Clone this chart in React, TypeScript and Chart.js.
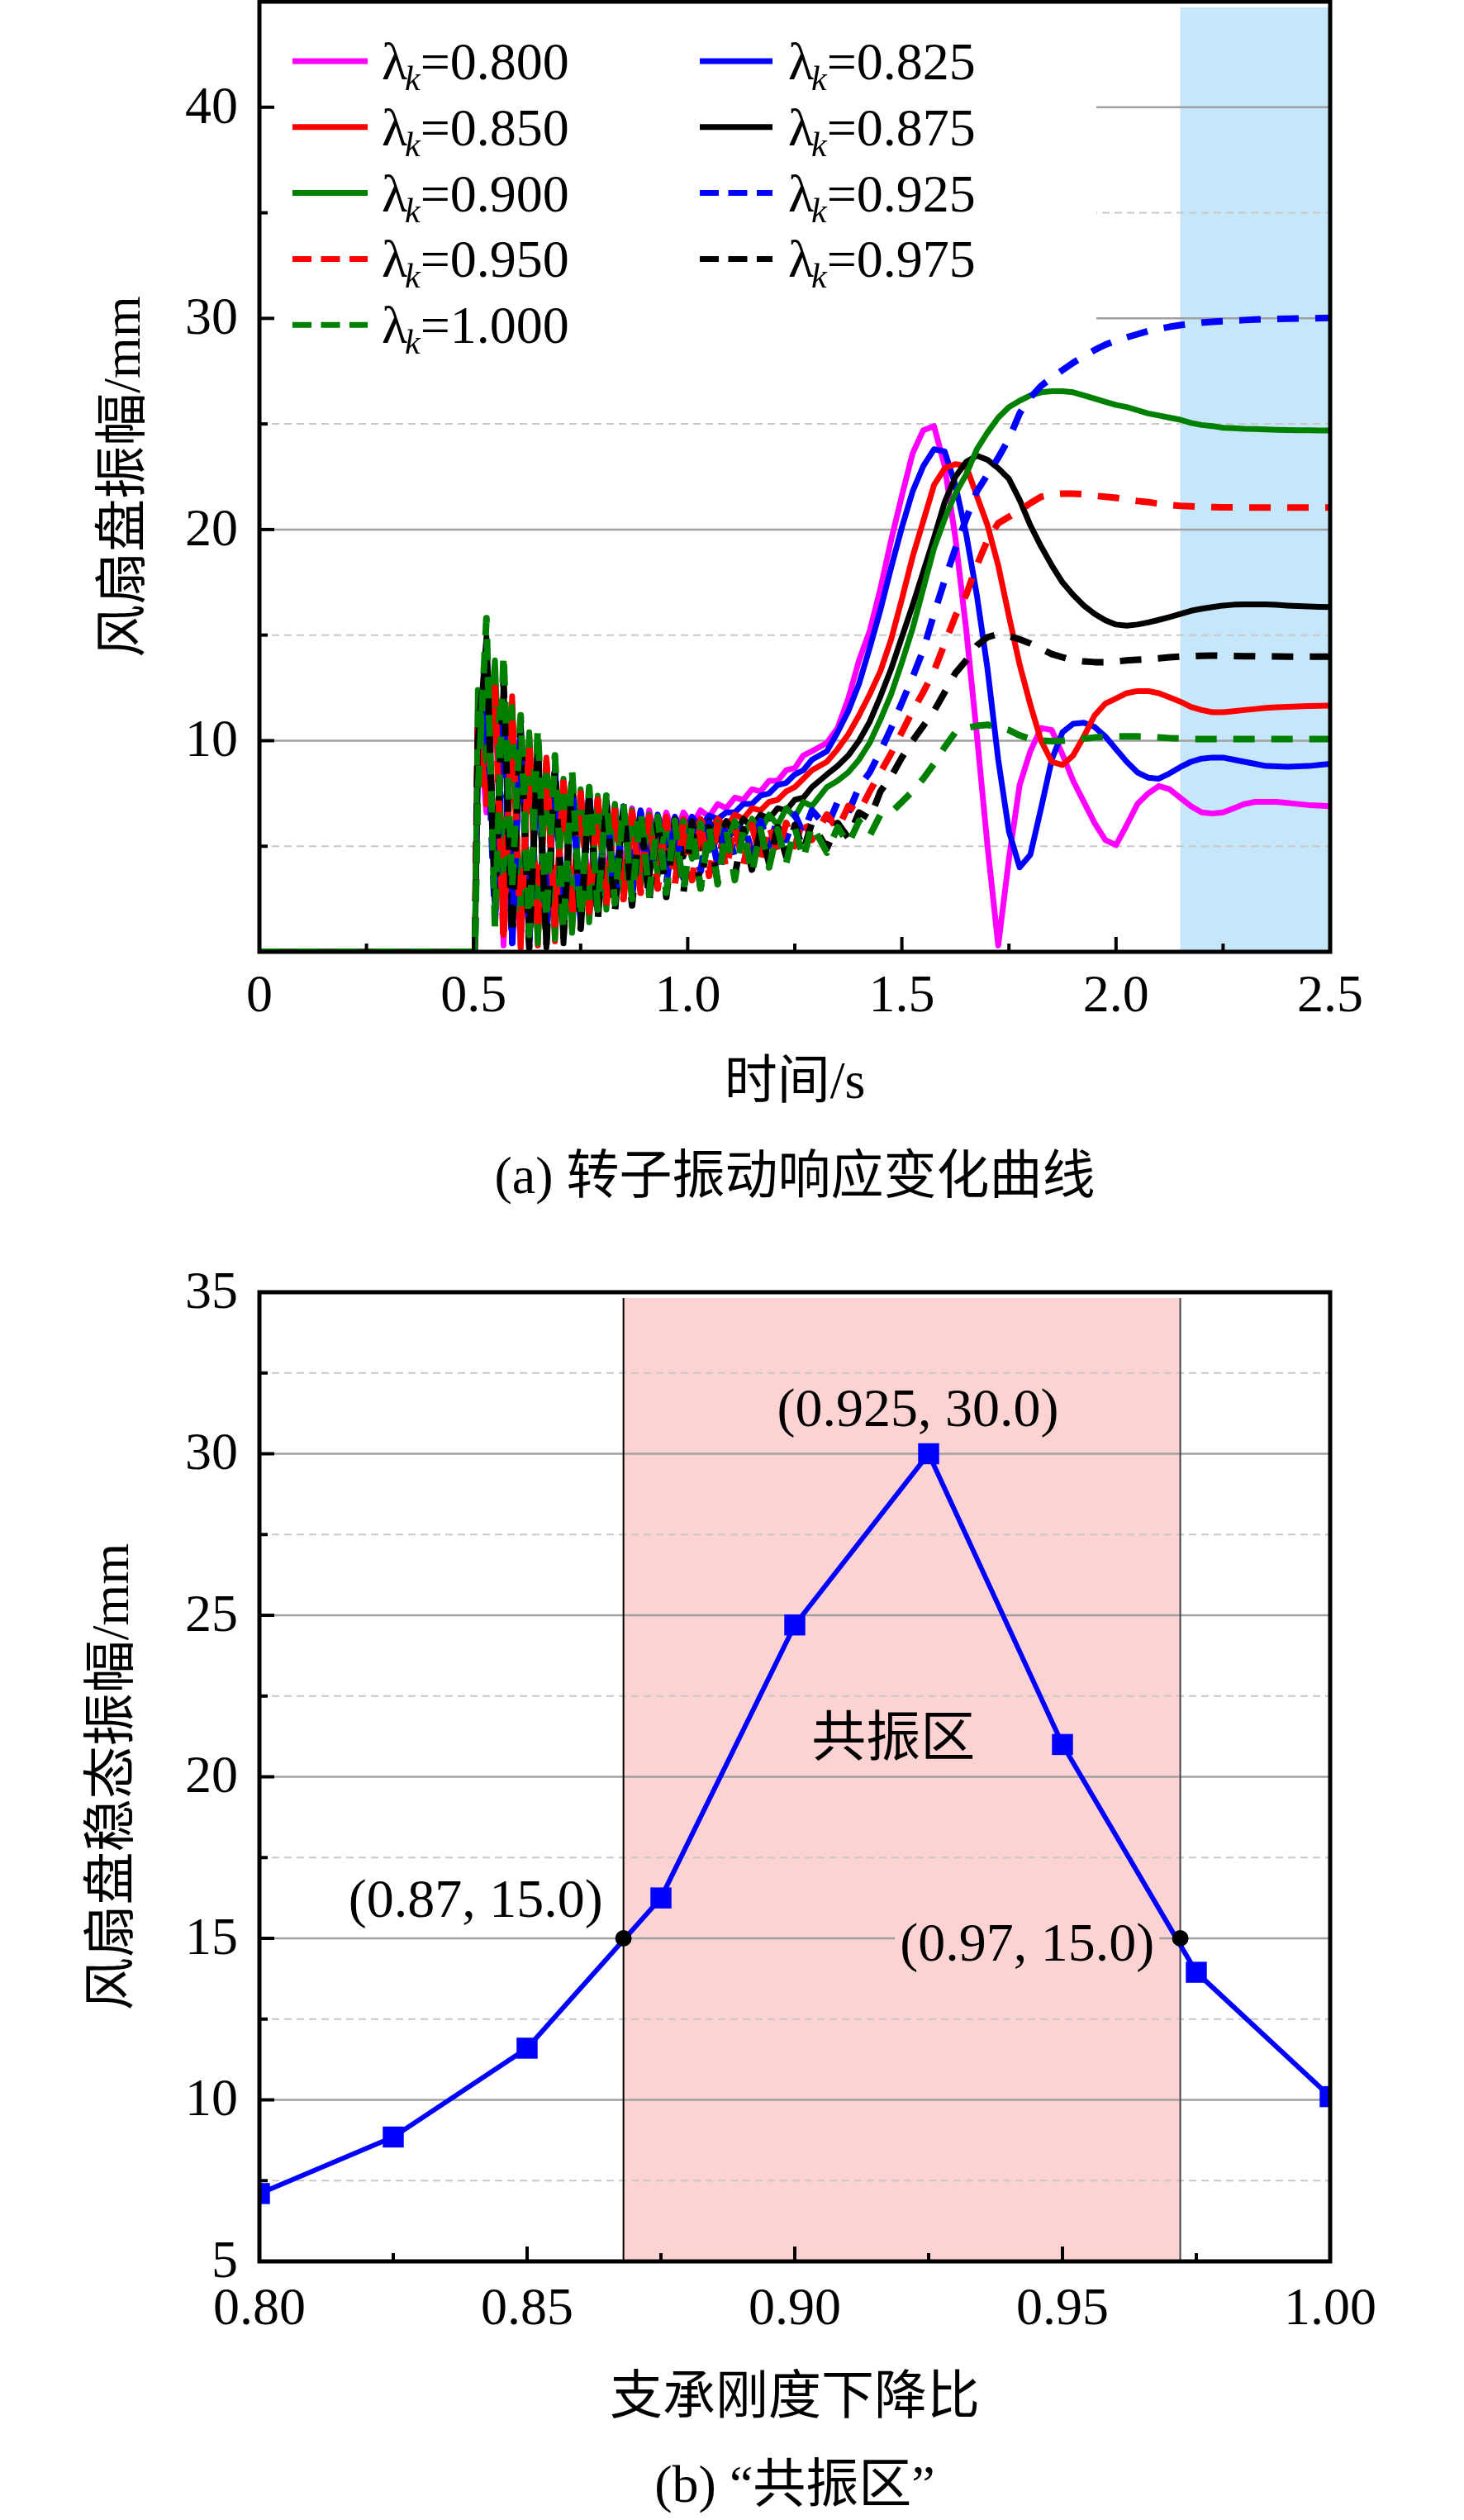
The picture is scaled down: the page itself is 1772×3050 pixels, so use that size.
import React, { useEffect, useRef } from "react";
import { Chart, registerables } from "chart.js";

Chart.register(...registerables);

const FONT = '"Liberation Serif", "Times New Roman", "Noto Sans CJK SC", serif';

// ================= (a) time response =================
const TIME_PRE = [0, 0.503];
const AMP_PRE = [0, 0];
const TIME_OSC = [
  0.51, 0.53, 0.55, 0.57, 0.59, 0.61, 0.63, 0.65, 0.67, 0.69,
  0.71, 0.73, 0.75, 0.77, 0.79, 0.81, 0.83, 0.85, 0.87, 0.89,
  0.91, 0.93, 0.95, 0.97, 0.99, 1.01, 1.03, 1.05, 1.07, 1.09,
  1.11, 1.13, 1.15, 1.17, 1.19, 1.21, 1.23, 1.25, 1.27, 1.29,
];
const TIME_TAIL = [
  1.325, 1.35, 1.375, 1.4, 1.425, 1.45, 1.475, 1.5, 1.525, 1.55,
  1.575, 1.6, 1.625, 1.65, 1.675, 1.7, 1.725, 1.75, 1.775, 1.8,
  1.825, 1.85, 1.875, 1.9, 1.925, 1.95, 1.975, 2.0, 2.025, 2.05,
  2.075, 2.1, 2.125, 2.15, 2.175, 2.2, 2.225, 2.25, 2.275, 2.3,
  2.325, 2.35, 2.375, 2.4, 2.425, 2.45, 2.475, 2.5,
];

const OSC_0800 = [11.5, 6.6, 12.6, 0.3, 11.8, 0.2, 10.2, 0.6, 8.9, 1.2, 8.1, 1.8, 7.6, 2.4, 7.3, 3.0, 7.0, 3.6, 6.8, 4.2, 6.7, 4.8, 6.6, 5.4, 6.6, 6.0, 6.7, 6.4, 7.0, 6.8, 7.3, 7.2, 7.7, 7.6, 8.1, 8.1, 8.6, 8.7, 9.3, 9.5];
const TAIL_0800 = [9.9, 10.6, 12.0, 13.8, 15.2, 17.2, 19.5, 21.6, 23.6, 24.7, 24.9, 23.0, 19.6, 15.3, 10.3, 5.0, 0.3, 4.4, 7.9, 9.5, 10.6, 10.5, 9.35, 8.1, 7.1, 6.1, 5.3, 5.05, 6.0, 7.0, 7.5, 7.85, 7.7, 7.3, 6.9, 6.6, 6.55, 6.6, 6.8, 7.0, 7.1, 7.1, 7.1, 7.05, 7.0, 6.95, 6.93, 6.9];

const OSC_0825 = [8.0, 13.2, 2.0, 12.2, 0.4, 11.0, 0.3, 9.8, 0.8, 8.8, 1.3, 8.1, 2.0, 7.6, 2.6, 7.2, 3.2, 6.9, 3.8, 6.7, 4.4, 6.5, 5.0, 6.4, 5.5, 6.4, 5.9, 6.45, 6.3, 6.6, 6.6, 7.0, 7.0, 7.4, 7.5, 7.9, 8.0, 8.4, 8.6, 9.1];
const TAIL_0825 = [9.5, 10.4, 11.4, 12.7, 14.4, 16.2, 18.2, 20.1, 21.8, 23.0, 23.8, 23.7, 22.1, 19.8, 16.9, 13.4, 9.1, 5.7, 4.0, 4.6, 6.8, 9.1, 10.4, 10.8, 10.85, 10.65, 10.2, 9.6, 9.0, 8.5, 8.25, 8.2, 8.45, 8.75, 9.0, 9.15, 9.2, 9.2, 9.1, 9.0, 8.9, 8.8, 8.78, 8.77, 8.78, 8.8, 8.85, 8.9];

const OSC_0850 = [10.5, 7.5, 13.0, 0.8, 12.1, 0.2, 10.3, 0.3, 9.2, 0.5, 8.1, 1.0, 7.6, 1.7, 7.2, 2.3, 6.9, 2.9, 6.7, 3.5, 6.5, 4.1, 6.4, 4.7, 6.3, 5.2, 6.3, 5.6, 6.3, 5.9, 6.5, 6.3, 6.8, 6.7, 7.1, 7.2, 7.6, 7.8, 8.2, 8.6];
const TAIL_0850 = [9.0, 9.6, 10.3, 11.2, 12.2, 13.3, 14.8, 16.7, 18.7, 20.4, 22.1, 22.9, 23.1, 23.0, 21.6, 20.2, 18.3, 15.9, 13.6, 11.7, 10.0, 9.0, 8.85, 9.3, 10.2, 11.2, 11.75, 12.0, 12.25, 12.35, 12.35, 12.25, 12.05, 11.85, 11.6, 11.45, 11.35, 11.35, 11.4, 11.45, 11.5, 11.55, 11.58, 11.6, 11.62, 11.64, 11.65, 11.66];

const OSC_0875 = [9.5, 14.9, 3.5, 12.5, 1.5, 10.8, 0.5, 9.5, 0.2, 8.6, 0.4, 8.2, 1.2, 7.6, 1.8, 7.1, 2.4, 6.8, 3.0, 6.6, 3.5, 6.4, 4.0, 6.3, 4.5, 6.2, 4.9, 6.2, 5.3, 6.2, 5.6, 6.3, 5.9, 6.5, 6.3, 6.8, 6.7, 7.2, 7.3, 7.8];
const TAIL_0875 = [8.4, 8.8, 9.3, 10.0, 10.9, 12.1, 13.4, 14.9, 16.4, 18.0, 19.6, 21.3, 22.5, 23.2, 23.5, 23.3, 22.9, 22.4, 21.4, 20.2, 19.2, 18.3, 17.5, 16.9, 16.4, 16.0, 15.7, 15.5, 15.45, 15.5, 15.6, 15.72, 15.85, 16.0, 16.15, 16.25, 16.33, 16.4, 16.44, 16.45, 16.45, 16.45, 16.43, 16.4, 16.38, 16.36, 16.34, 16.33];

const OSC_0900 = [12.4, 9.0, 13.8, 3.2, 11.6, 1.0, 10.4, 0.4, 9.0, 0.6, 8.2, 0.9, 7.7, 1.4, 7.4, 2.0, 7.0, 2.6, 6.7, 3.1, 6.5, 3.6, 6.3, 4.0, 6.2, 4.4, 6.1, 4.8, 6.1, 5.1, 6.2, 5.4, 6.3, 5.7, 6.5, 6.0, 6.8, 6.4, 7.1, 6.9];
const TAIL_0900 = [7.8, 8.1, 8.5, 9.1, 9.9, 11.0, 12.2, 13.7, 15.3, 17.2, 19.1, 20.5, 21.7, 22.6, 23.8, 24.6, 25.3, 25.8, 26.1, 26.35, 26.5, 26.55, 26.55, 26.5, 26.35, 26.2, 26.05, 25.9, 25.8, 25.65, 25.5, 25.4, 25.3, 25.2, 25.05, 24.95, 24.9, 24.82, 24.8, 24.77, 24.76, 24.74, 24.72, 24.71, 24.7, 24.7, 24.69, 24.69];

const OSC_0925 = [8.5, 12.0, 1.5, 11.5, 0.3, 10.5, 0.5, 9.4, 0.9, 8.5, 1.3, 7.9, 1.6, 7.4, 2.0, 7.1, 2.3, 6.8, 2.6, 6.6, 2.9, 6.4, 3.2, 6.3, 3.5, 6.2, 3.8, 6.1, 4.1, 6.1, 4.4, 6.1, 4.7, 6.2, 5.0, 6.3, 5.3, 6.5, 5.6, 6.7];
const TAIL_0925 = [5.9, 7.1, 6.6, 7.8, 8.5, 9.5, 10.6, 11.8, 13.0, 14.3, 16.0, 17.6, 19.1, 20.5, 21.8, 22.6, 23.4, 24.3, 25.5, 26.25, 26.8, 27.2, 27.55, 27.9, 28.2, 28.5, 28.75, 28.95, 29.1, 29.25, 29.4, 29.5, 29.6, 29.68, 29.75, 29.8, 29.84, 29.87, 29.9, 29.92, 29.94, 29.96, 29.97, 29.98, 29.99, 30.0, 30.01, 30.02];

const OSC_0950 = [11.0, 7.0, 12.5, 0.5, 11.3, 0.6, 9.9, 1.0, 9.0, 1.3, 8.0, 1.6, 7.5, 1.9, 7.2, 2.2, 6.9, 2.5, 6.6, 2.8, 6.4, 3.0, 6.3, 3.2, 6.2, 3.4, 6.1, 3.6, 6.0, 3.9, 6.0, 4.1, 6.0, 4.4, 6.0, 4.7, 6.1, 5.0, 6.3, 5.3];
const TAIL_0950 = [6.5, 5.8, 6.9, 6.6, 7.6, 8.5, 9.4, 10.4, 11.4, 12.3, 13.3, 14.6, 15.9, 16.9, 18.3, 19.5, 20.3, 20.6, 20.9, 21.25, 21.55, 21.65, 21.7, 21.7, 21.67, 21.6, 21.55, 21.5, 21.42, 21.35, 21.3, 21.22, 21.17, 21.12, 21.1, 21.07, 21.06, 21.05, 21.05, 21.04, 21.04, 21.04, 21.04, 21.04, 21.04, 21.04, 21.04, 21.04];

const OSC_0975 = [10.0, 14.5, 2.5, 12.8, 0.8, 11.0, 0.2, 9.7, 0.3, 8.7, 0.7, 8.0, 1.1, 7.5, 1.5, 7.1, 1.9, 6.8, 2.2, 6.5, 2.4, 6.3, 2.6, 6.1, 2.8, 6.0, 3.0, 5.9, 3.3, 5.8, 3.6, 5.8, 3.9, 5.8, 4.2, 5.9, 4.5, 6.0, 4.8, 6.1];
const TAIL_0975 = [4.9, 6.1, 5.4, 6.6, 6.3, 7.6, 8.3, 9.2, 10.0, 10.7, 11.4, 12.3, 13.2, 13.8, 14.5, 14.9, 15.05, 14.95, 14.8, 14.6, 14.35, 14.1, 13.95, 13.8, 13.75, 13.72, 13.72, 13.75, 13.8, 13.83, 13.86, 13.9, 13.95, 13.98, 14.0, 14.02, 14.03, 14.02, 14.01, 14.0, 14.0, 13.99, 13.99, 13.98, 13.98, 13.98, 13.98, 13.98];

const OSC_1000 = [7.5, 15.8, 1.2, 14.1, 3.0, 11.2, 0.8, 10.6, 1.5, 9.3, 1.0, 8.6, 1.6, 7.8, 2.0, 7.4, 2.3, 7.0, 2.5, 6.7, 2.7, 6.4, 2.8, 6.2, 2.9, 6.0, 3.0, 5.9, 3.2, 5.8, 3.4, 5.8, 3.7, 5.8, 4.0, 5.8, 4.2, 5.9, 4.4, 6.0];
const TAIL_1000 = [4.7, 5.9, 5.1, 6.2, 5.5, 6.5, 6.6, 7.1, 7.6, 8.2, 8.9, 9.7, 10.4, 10.6, 10.7, 10.75, 10.65, 10.5, 10.25, 10.08, 10.0, 9.98, 10.0, 10.05, 10.1, 10.15, 10.18, 10.2, 10.2, 10.2, 10.18, 10.15, 10.12, 10.1, 10.08, 10.08, 10.08, 10.08, 10.08, 10.08, 10.08, 10.08, 10.08, 10.08, 10.08, 10.08, 10.08, 10.08];

const LAMBDA_LABELS = ["0.800", "0.825", "0.850", "0.875", "0.900", "0.925", "0.950", "0.975", "1.000"];
const OSC_SETS = [OSC_0800, OSC_0825, OSC_0850, OSC_0875, OSC_0900, OSC_0925, OSC_0950, OSC_0975, OSC_1000];
const TAIL_SETS = [TAIL_0800, TAIL_0825, TAIL_0850, TAIL_0875, TAIL_0900, TAIL_0925, TAIL_0950, TAIL_0975, TAIL_1000];
const SERIES_COLOR = ["#ff00ff", "#0000ff", "#ff0000", "#000000", "#008000", "#0000ff", "#ff0000", "#000000", "#008000"];
const SERIES_DASHED = [false, false, false, false, false, true, true, true, true];

const A_X_TICKS = [0, 0.5, 1.0, 1.5, 2.0, 2.5];
const A_X_LABELS = ["0", "0.5", "1.0", "1.5", "2.0", "2.5"];
const A_X_MINOR = [0.25, 0.75, 1.25, 1.75, 2.25];
const A_Y_TICKS = [10, 20, 30, 40];
const A_Y_MINOR = [5, 15, 25, 35];
const A_SHADE = [2.15, 2.5];

// ================= (b) steady amplitude =================
const RATIO = [0.8, 0.825, 0.85, 0.875, 0.9, 0.925, 0.95, 0.975, 1.0];
const STEADY_AMP = [7.1, 8.85, 11.6, 16.25, 24.7, 30.0, 21.0, 13.95, 10.1];
const CROSS_RATIO = [0.868, 0.972];
const CROSS_AMP = [15.0, 15.0];
const B_X_TICKS = [0.8, 0.85, 0.9, 0.95, 1.0];
const B_X_LABELS = ["0.80", "0.85", "0.90", "0.95", "1.00"];
const B_X_MINOR = [0.825, 0.875, 0.925, 0.975];
const B_Y_TICKS = [5, 10, 15, 20, 25, 30, 35];
const B_Y_MINOR = [7.5, 12.5, 17.5, 22.5, 27.5, 32.5];
const B_NOTE_TEXT = ["(0.925, 30.0)", "共振区", "(0.87, 15.0)", "(0.97, 15.0)"];
const B_NOTE_X = [0.923, 0.9184, 0.8404, 0.9434];
const B_NOTE_Y = [31.3, 21.1, 16.1, 14.75];

function setFont(ctx: CanvasRenderingContext2D, size: number, italic = false) {
  ctx.font = `${italic ? "italic " : ""}${size}px ${FONT}`;
}

function hLine(ctx: CanvasRenderingContext2D, x0: number, x1: number, y: number) {
  ctx.beginPath();
  ctx.moveTo(x0, y);
  ctx.lineTo(x1, y);
  ctx.stroke();
}
function vLine(ctx: CanvasRenderingContext2D, x: number, y0: number, y1: number) {
  ctx.beginPath();
  ctx.moveTo(x, y0);
  ctx.lineTo(x, y1);
  ctx.stroke();
}

function drawFrameAndTicks(
  chart: any,
  xMajor: number[],
  xMinor: number[],
  yMajor: number[],
  yMinor: number[]
) {
  const { ctx, chartArea: a, scales } = chart;
  const xs = scales.x;
  const ys = scales.y;
  ctx.save();
  ctx.strokeStyle = "#000";
  ctx.setLineDash([]);
  ctx.lineWidth = 4;
  for (const v of yMajor) hLine(ctx, a.left, a.left + 18, ys.getPixelForValue(v));
  for (const v of yMinor) hLine(ctx, a.left, a.left + 10, ys.getPixelForValue(v));
  for (const v of xMajor) vLine(ctx, xs.getPixelForValue(v), a.bottom, a.bottom - 18);
  for (const v of xMinor) vLine(ctx, xs.getPixelForValue(v), a.bottom, a.bottom - 10);
  ctx.lineWidth = 5;
  ctx.strokeRect(a.left, a.top, a.right - a.left, a.bottom - a.top);
  ctx.restore();
}

function drawTickLabels(
  chart: any,
  xTicks: number[],
  xLabels: string[],
  yTicks: number[],
  xLabelOffset: number
) {
  const { ctx, chartArea: a, scales } = chart;
  ctx.save();
  ctx.fillStyle = "#000";
  setFont(ctx, 64);
  ctx.textAlign = "center";
  ctx.textBaseline = "middle";
  xTicks.forEach((v, i) => ctx.fillText(xLabels[i], scales.x.getPixelForValue(v), a.bottom + xLabelOffset));
  ctx.textAlign = "right";
  yTicks.forEach((v) => ctx.fillText(String(v), a.left - 26, scales.y.getPixelForValue(v) + 2));
  ctx.restore();
}

function drawTitles(
  chart: any,
  xTitle: string,
  xTitleY: number,
  yTitle: string,
  yTitleX: number,
  caption: string,
  captionY: number
) {
  const { ctx, chartArea: a } = chart;
  const cx = (a.left + a.right) / 2;
  const cy = (a.top + a.bottom) / 2;
  ctx.save();
  ctx.fillStyle = "#000";
  setFont(ctx, 64);
  ctx.textAlign = "center";
  ctx.textBaseline = "middle";
  ctx.fillText(xTitle, cx, xTitleY);
  ctx.fillText(caption, cx, captionY);
  ctx.translate(yTitleX, cy);
  ctx.rotate(-Math.PI / 2);
  ctx.fillText(yTitle, 0, 0);
  ctx.restore();
}

const topPlugin = {
  id: "topDecor",
  beforeDatasetsDraw(chart: any) {
    const { ctx, chartArea: a, scales } = chart;
    const xs = scales.x;
    const ys = scales.y;
    ctx.save();
    const sx = xs.getPixelForValue(A_SHADE[0]);
    const ex = xs.getPixelForValue(A_SHADE[1]);
    ctx.fillStyle = "#c6e6f9";
    ctx.fillRect(sx, a.top + 7, ex - sx, a.bottom - a.top - 7);
    ctx.strokeStyle = "#c8c8c8";
    ctx.lineWidth = 2;
    ctx.setLineDash([9, 6]);
    for (const v of A_Y_MINOR) hLine(ctx, a.left, a.right, ys.getPixelForValue(v));
    ctx.setLineDash([]);
    ctx.strokeStyle = "#a0a0a0";
    ctx.lineWidth = 2.5;
    for (const v of A_Y_TICKS) hLine(ctx, a.left, a.right, ys.getPixelForValue(v));
    // legend background
    ctx.fillStyle = "#fff";
    ctx.fillRect(a.left + 3, a.top + 3, 1010, 432);
    ctx.restore();
  },
  afterDatasetsDraw(chart: any) {
    const { ctx, chartArea: a } = chart;
    drawFrameAndTicks(chart, A_X_TICKS, A_X_MINOR, A_Y_TICKS, A_Y_MINOR);
    drawTickLabels(chart, A_X_TICKS, A_X_LABELS, A_Y_TICKS, 55);
    drawTitles(chart, "时间/s", a.bottom + 160, "风扇盘振幅/mm", 152, "(a) 转子振动响应变化曲线", a.bottom + 275);
    // legend
    ctx.save();
    LAMBDA_LABELS.forEach((lab, i) => {
      const col = i % 2;
      const row = Math.floor(i / 2);
      const y = a.top + 72 + row * 79.8;
      const lx0 = a.left + (col === 0 ? 40 : 533);
      const lx1 = lx0 + (col === 0 ? 91 : 88);
      ctx.strokeStyle = SERIES_COLOR[i];
      ctx.lineWidth = 7;
      ctx.lineCap = "butt";
      ctx.setLineDash(SERIES_DASHED[i] ? [23, 11.5] : []);
      hLine(ctx, lx0, lx1, y);
      ctx.setLineDash([]);
      let tx = a.left + (col === 0 ? 148 : 640);
      ctx.fillStyle = "#000";
      ctx.textAlign = "left";
      ctx.textBaseline = "alphabetic";
      setFont(ctx, 64);
      ctx.fillText("λ", tx, y + 22);
      tx += ctx.measureText("λ").width - 3;
      setFont(ctx, 42, true);
      ctx.fillText("k", tx, y + 35);
      tx += ctx.measureText("k").width;
      setFont(ctx, 64);
      ctx.fillText("=" + lab, tx, y + 22);
    });
    ctx.restore();
  },
};

const bottomPlugin = {
  id: "bottomDecor",
  beforeDatasetsDraw(chart: any) {
    const { ctx, chartArea: a, scales } = chart;
    const xs = scales.x;
    const ys = scales.y;
    ctx.save();
    const sx = xs.getPixelForValue(CROSS_RATIO[0]);
    const ex = xs.getPixelForValue(CROSS_RATIO[1]);
    ctx.fillStyle = "#fcd2d2";
    ctx.fillRect(sx, a.top + 7, ex - sx, a.bottom - a.top - 7);
    ctx.strokeStyle = "#c8c8c8";
    ctx.lineWidth = 2;
    ctx.setLineDash([9, 6]);
    for (const v of B_Y_MINOR) hLine(ctx, a.left, a.right, ys.getPixelForValue(v));
    ctx.setLineDash([]);
    ctx.strokeStyle = "#a0a0a0";
    ctx.lineWidth = 2.5;
    for (const v of B_Y_TICKS) {
      if (v === B_Y_TICKS[0] || v === B_Y_TICKS[B_Y_TICKS.length - 1]) continue;
      hLine(ctx, a.left, a.right, ys.getPixelForValue(v));
    }
    ctx.strokeStyle = "#000";
    ctx.lineWidth = 2;
    vLine(ctx, sx, a.top + 7, a.bottom);
    ctx.strokeStyle = "#444";
    vLine(ctx, ex, a.top + 7, a.bottom);
    ctx.restore();
  },
  afterDatasetsDraw(chart: any) {
    const { ctx, chartArea: a, scales } = chart;
    drawFrameAndTicks(chart, B_X_TICKS, B_X_MINOR, B_Y_TICKS, B_Y_MINOR);
    drawTickLabels(chart, B_X_TICKS, B_X_LABELS, B_Y_TICKS, 59);
    drawTitles(chart, "支承刚度下降比", a.bottom + 167, "风扇盘稳态振幅/mm", 138, "(b) “共振区”", a.bottom + 274);
    ctx.save();
    setFont(ctx, 66);
    ctx.textAlign = "center";
    ctx.textBaseline = "middle";
    B_NOTE_TEXT.forEach((t, i) => {
      const px = scales.x.getPixelForValue(B_NOTE_X[i]);
      const py = scales.y.getPixelForValue(B_NOTE_Y[i]);
      if (i === 3) {
        const w = ctx.measureText(t).width;
        ctx.fillStyle = "#fcd2d2";
        ctx.fillRect(px - w / 2 - 6, py - 30, w + 12, 60);
      }
      ctx.fillStyle = "#000";
      ctx.fillText(t, px, py);
    });
    ctx.restore();
  },
};

export default function App() {
  const topRef = useRef<HTMLCanvasElement>(null);
  const botRef = useRef<HTMLCanvasElement>(null);

  useEffect(() => {
    const datasets = LAMBDA_LABELS.map((lab, i) => ({
      label: "λk=" + lab,
      data: [
        ...TIME_PRE.map((t, j) => ({ x: t, y: AMP_PRE[j] })),
        ...TIME_OSC.map((t, j) => ({ x: t, y: OSC_SETS[i][j] })),
        ...TIME_TAIL.map((t, j) => ({ x: t, y: TAIL_SETS[i][j] })),
      ],
      borderColor: SERIES_COLOR[i],
      backgroundColor: SERIES_COLOR[i],
      borderWidth: SERIES_DASHED[i] ? 8 : 7,
      borderDash: SERIES_DASHED[i] ? [26, 20] : [],
      borderJoinStyle: "round" as const,
      borderCapStyle: "butt" as const,
      pointRadius: 0,
      tension: 0,
      order: LAMBDA_LABELS.length - 1 - i,
    }));

    const c1 = new Chart(topRef.current as HTMLCanvasElement, {
      type: "line",
      data: { datasets },
      options: {
        responsive: false,
        animation: false,
        devicePixelRatio: 1,
        events: [],
        parsing: false as any,
        layout: { padding: { left: 314, right: 162, top: 2, bottom: 348 } },
        plugins: { legend: { display: false }, tooltip: { enabled: false } },
        scales: {
          x: { type: "linear", min: 0, max: 2.5, display: false },
          y: { type: "linear", min: 0, max: 45, display: false },
        },
      },
      plugins: [topPlugin],
    });

    const c2 = new Chart(botRef.current as HTMLCanvasElement, {
      type: "line",
      data: {
        datasets: [
          {
            label: "crossing",
            data: CROSS_RATIO.map((r, j) => ({ x: r, y: CROSS_AMP[j] })),
            showLine: false,
            pointStyle: "circle",
            pointRadius: 10,
            pointBackgroundColor: "#000",
            pointBorderWidth: 0,
            borderColor: "#000",
            order: 0,
          },
          {
            label: "steady",
            data: RATIO.map((r, j) => ({ x: r, y: STEADY_AMP[j] })),
            borderColor: "#0000ff",
            backgroundColor: "#0000ff",
            borderWidth: 6,
            pointStyle: "rect",
            pointRadius: 18,
            pointBorderWidth: 0,
            pointBackgroundColor: "#0000ff",
            tension: 0,
            order: 1,
          },
        ],
      },
      options: {
        responsive: false,
        animation: false,
        devicePixelRatio: 1,
        events: [],
        parsing: false as any,
        layout: { padding: { left: 314, right: 162, top: 64, bottom: 313 } },
        plugins: { legend: { display: false }, tooltip: { enabled: false } },
        scales: {
          x: { type: "linear", min: 0.8, max: 1.0, display: false },
          y: { type: "linear", min: 5, max: 35, display: false },
        },
      },
      plugins: [bottomPlugin],
    });

    return () => {
      c1.destroy();
      c2.destroy();
    };
  }, []);

  return (
    <div style={{ position: "absolute", left: 0, top: 0, width: 1772, height: 3050, background: "#fff" }}>
      <canvas
        ref={topRef}
        width={1772}
        height={1500}
        style={{ position: "absolute", left: 0, top: 0, width: 1772, height: 1500 }}
      />
      <canvas
        ref={botRef}
        width={1772}
        height={1550}
        style={{ position: "absolute", left: 0, top: 1500, width: 1772, height: 1550 }}
      />
    </div>
  );
}
